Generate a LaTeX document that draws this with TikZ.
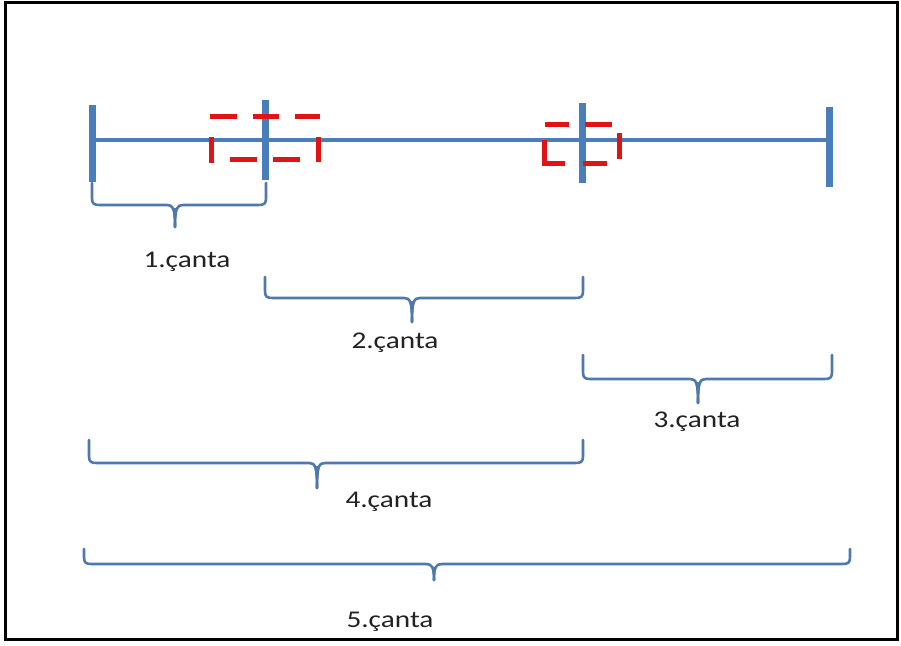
\documentclass[tikz,border=0pt]{standalone}
\usepackage{fontspec}
\setmainfont{Carlito}
\definecolor{lineblue}{HTML}{4A7EBB}
\definecolor{bracecol}{HTML}{4F78AE}
\definecolor{dashred}{HTML}{E01414}
\definecolor{txt}{HTML}{222222}
\newcommand\bracedn[6]{%
  \draw[bracestyle] (#1,#4) -- (#1,{#5-7}) .. controls (#1,{#5-1}) and ({#1+2},#5) .. ({#1+8},#5)
    -- ({#3-8},#5) .. controls ({#3-2},#5) and (#3,{#5+3}) .. (#3,#6);
  \draw[bracestyle] (#3,#6) .. controls (#3,{#5+3}) and ({#3+2},#5) .. ({#3+8},#5)
    -- ({#2-8},#5) .. controls ({#2-2},#5) and (#2,{#5-1}) .. (#2,{#5-7}) -- (#2,#4);
  \fill[bracecol] ({#3-2.5},{#5+3}) -- ({#3+2.5},{#5+3}) -- (#3,{#6}) -- cycle;
}
\tikzset{
  bracestyle/.style={draw=bracecol, line width=2.6pt, line cap=round, line join=round},
  tickbar/.style={draw=lineblue, line width=7pt},
  reddash/.style={draw=dashred, line width=5pt},
  lbl/.style={anchor=base, text=txt, inner sep=0pt, font=\fontsize{24}{28}\selectfont},
}
\begin{document}
\begin{tikzpicture}[x=1pt,y=-1pt]
\useasboundingbox (0,0) rectangle (901,645);
\fill[white] (0,0) rectangle (901,645);
\draw[black, line width=3pt] (5,2) rectangle (897,639);

% main line and ticks
\coordinate (L) at (92,140);
\coordinate (R) at (829,140);
\draw[lineblue, line width=3.5pt] (L) -- (R);
\draw[tickbar] (92,105) -- (92,182);
\draw[tickbar] (265,100) -- (265,180);
\draw[tickbar] (582,103) -- (582,183);
\draw[tickbar] (829,107) -- (829,187);

% red dashed rectangles
\draw[reddash] (210,116) -- (237,116);
\draw[reddash] (253,116) -- (279,116);
\draw[reddash] (295,116) -- (320,116);
\draw[reddash] (318,137) -- (318,162);
\draw[reddash] (230,159) -- (257,159);
\draw[reddash] (273,159) -- (300,159);
\draw[reddash] (211,137) -- (211,163);

\draw[reddash] (545,124) -- (569,124);
\draw[reddash] (585,124) -- (612,124);
\draw[reddash] (544,140) -- (544,163) -- (565,163);
\draw[reddash] (583,163) -- (607,163);
\draw[reddash] (619,133) -- (619,159);

% braces
\bracedn{92}{266}{175}{183}{205}{227}
\bracedn{265}{583}{412}{277}{298}{322}
\bracedn{583}{832}{698}{355}{379}{403}
\bracedn{89}{583}{317}{440}{463}{488}
\bracedn{84}{850}{434}{549}{564}{580}

% labels
\node[lbl] (c1) at (187,267) {\scalebox{1.22}[1]{1.çanta}};
\node[lbl] (c2) at (395,348) {\scalebox{1.22}[1]{2.çanta}};
\node[lbl] (c3) at (697,427) {\scalebox{1.22}[1]{3.çanta}};
\node[lbl] (c4) at (389,507) {\scalebox{1.22}[1]{4.çanta}};
\node[lbl] (c5) at (390,627) {\scalebox{1.22}[1]{5.çanta}};
\end{tikzpicture}
\end{document}
